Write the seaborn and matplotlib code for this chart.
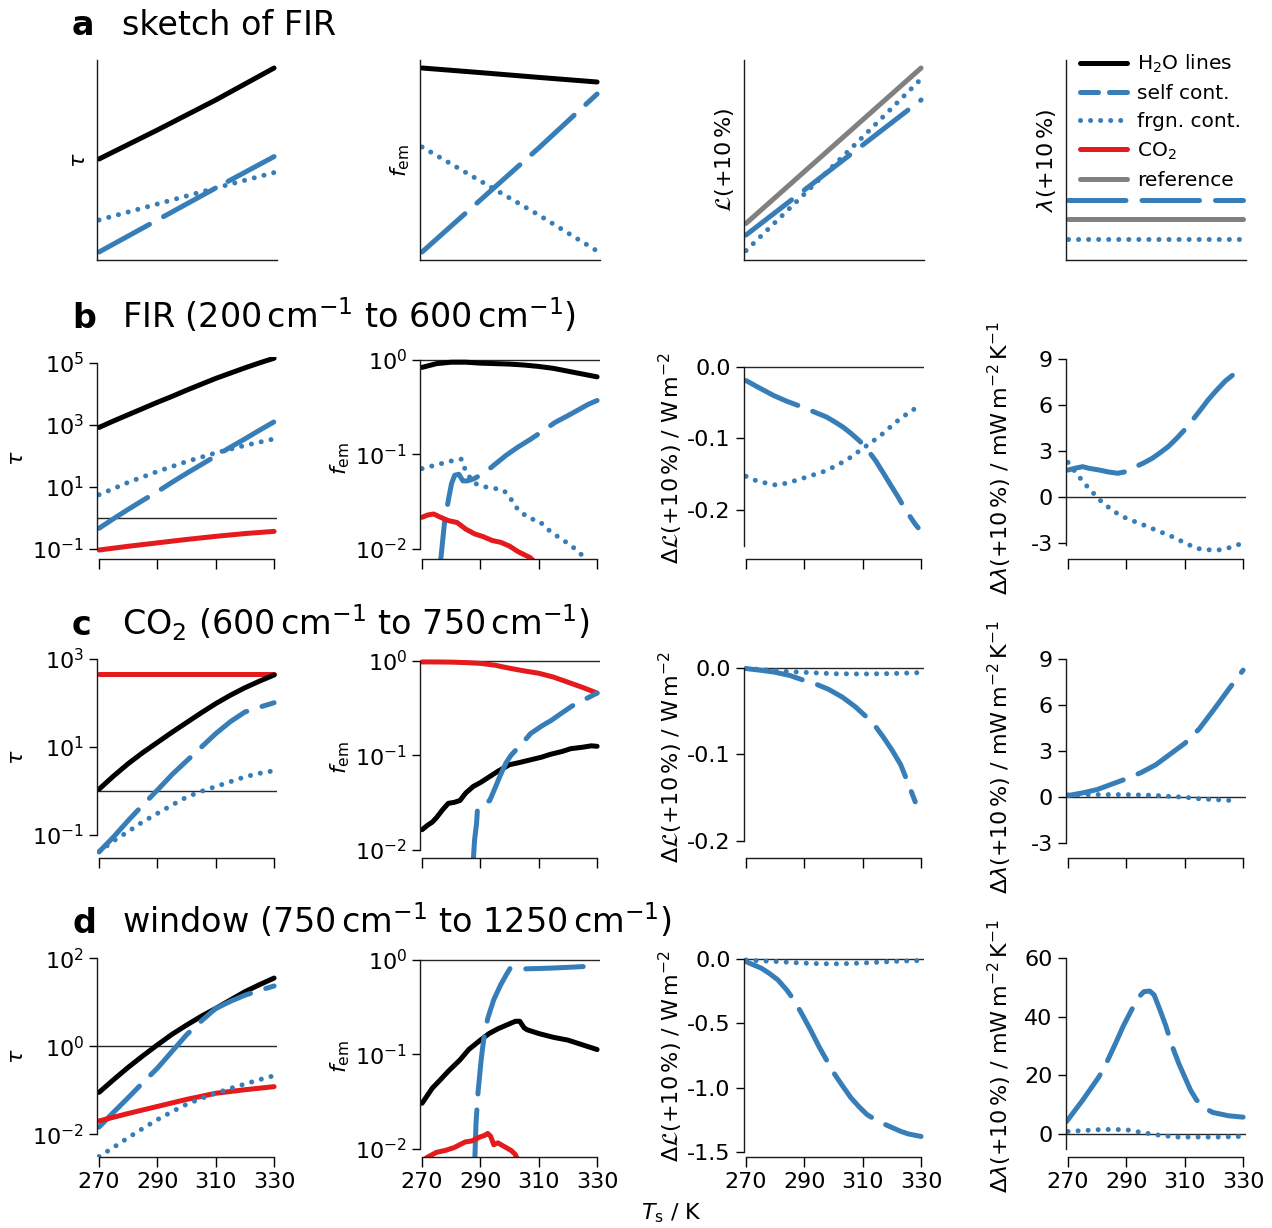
import numpy as np
import matplotlib
matplotlib.use('Agg')
from matplotlib import pyplot as plt
from matplotlib.lines import Line2D
from matplotlib.ticker import FixedLocator, NullLocator
import seaborn as sns

# ---------------------------------------------------------------- data
# row a: sketch (arbitrary units, 0..1)
a_t = [270, 290, 310, 330]
a_tau_h2o = [0.505, 0.65, 0.80, 0.96]
a_tau_self = [0.04, 0.20, 0.36, 0.517]
a_tau_frgn = [0.20, 0.28, 0.36, 0.437]
a_fem_h2o = [0.96, 0.937, 0.913, 0.89]
a_fem_self = [0.04, 0.30, 0.56, 0.83]
a_fem_frgn = [0.565, 0.395, 0.225, 0.045]
a_L_ref = [0.183, 0.442, 0.701, 0.96]
a_L_self = [0.125, 0.35, 0.575, 0.80]
a_L_frgn = [0.047, 0.33, 0.615, 0.905]
a_lam_self = [0.30, 0.30, 0.30, 0.30]
a_lam_ref = [0.205, 0.205, 0.205, 0.205]
a_lam_frgn = [0.105, 0.105, 0.105, 0.105]

# row b: FIR, log10 of tau and f_em
t5 = [270, 275, 280, 285, 290, 295, 300, 305, 310, 315, 320, 325, 330]
b_tau_h2o_log = [2.92, 3.13, 3.33, 3.53, 3.73, 3.92, 4.12, 4.31, 4.50, 4.67, 4.84, 5.00, 5.15]
b_tau_self_log = [-0.33, -0.02, 0.28, 0.57, 0.85, 1.15, 1.44, 1.72, 2.00, 2.28, 2.55, 2.83, 3.10]
t10 = [270, 280, 290, 300, 310, 320, 330]
b_tau_frgn_log = [0.75, 1.15, 1.50, 1.82, 2.10, 2.34, 2.55]
b_tau_co2_log = [-1.03, -0.91, -0.80, -0.69, -0.59, -0.50, -0.43]

b_fem_h2o_log = [-0.08, -0.04, -0.025, -0.025, -0.035, -0.04, -0.045, -0.055, -0.07, -0.09, -0.12, -0.15, -0.18]
b_fem_self_t = [275.8, 277.7, 279.1, 280.1, 281.2, 282.6, 284.0, 285.5, 287.6, 290.0, 293.2, 296.0,
                298.8, 303.0, 307.2, 311.5, 315.7, 320.0, 324.1, 327.0, 330.0]
b_fem_self_log = [-2.3, -1.72, -1.47, -1.31, -1.22, -1.21, -1.28, -1.28, -1.26, -1.22, -1.15, -1.08,
                  -1.01, -0.92, -0.84, -0.75, -0.66, -0.59, -0.52, -0.47, -0.43]
b_fem_frgn_t = [270, 275, 280, 283.5, 285, 287.6, 291, 295, 298, 300, 303, 307, 310, 313, 317, 321, 325, 327]
b_fem_frgn_log = [-1.15, -1.11, -1.07, -1.05, -1.18, -1.30, -1.34, -1.36, -1.38, -1.45, -1.59, -1.68,
                  -1.70, -1.79, -1.88, -1.96, -2.07, -2.15]
b_fem_co2_t = [270, 272, 274, 276, 279, 282, 285, 288, 291, 294, 297, 300, 303, 305, 307, 308]
b_fem_co2_log = [-1.665, -1.64, -1.63, -1.66, -1.70, -1.72, -1.79, -1.84, -1.87, -1.91, -1.93, -1.97,
                 -2.03, -2.06, -2.09, -2.12]

b_dL_self_t = [270, 274, 279.5, 284, 289.3, 294, 297.6, 300.5, 303.2, 306, 308.8, 311.5, 314.4, 317,
               320, 322, 324.1, 326, 328, 329]
b_dL_self = [-0.019, -0.028, -0.040, -0.048, -0.056, -0.064, -0.070, -0.077, -0.084, -0.093, -0.103,
             -0.115, -0.131, -0.148, -0.168, -0.181, -0.196, -0.208, -0.220, -0.225]
b_dL_frgn_t = [270, 274, 280, 284, 290, 297.6, 304.6, 310, 315.8, 321.4, 327, 329]
b_dL_frgn = [-0.153, -0.160, -0.165, -0.1626, -0.155, -0.145, -0.130, -0.114, -0.097, -0.077, -0.060, -0.057]

b_dlam_self_t = [270, 272.5, 275, 277, 280.7, 284, 287, 290, 293.2, 296, 298.8, 301.5, 304.3, 307,
                 309.9, 312.5, 315.4, 318, 321, 324, 326.5, 328.5, 330]
b_dlam_self = [1.78, 1.90, 2.00, 1.90, 1.78, 1.65, 1.57, 1.68, 2.00, 2.25, 2.54, 2.90, 3.30, 3.80,
               4.39, 5.00, 5.70, 6.35, 7.00, 7.60, 7.98, 8.17, 8.24]
b_dlam_frgn_t = [270, 272.4, 274.7, 276.9, 279.3, 282, 285, 287.6, 291, 294.6, 298, 301.5, 305, 308,
                 311, 314, 318, 321.7, 325, 327.9, 329]
b_dlam_frgn = [2.28, 1.67, 1.13, 0.63, 0.15, -0.39, -0.80, -1.15, -1.45, -1.70, -1.97, -2.24, -2.50,
               -2.78, -3.05, -3.33, -3.42, -3.43, -3.30, -3.11, -3.05]

# row c: CO2 band
c_tau_co2_log = [2.65, 2.65, 2.65, 2.65, 2.65, 2.65, 2.65]
c_tau_h2o_log = [0.04, 0.34, 0.62, 0.87, 1.10, 1.33, 1.55, 1.77, 1.98, 2.17, 2.34, 2.49, 2.63]
c_tau_self_log = [-1.38, -1.04, -0.67, -0.32, 0.02, 0.37, 0.68, 0.99, 1.30, 1.57, 1.79, 1.90, 2.00]
c_tau_frgn_log = [-1.38, -1.13, -0.92, -0.70, -0.51, -0.32, -0.14, -0.01, 0.10, 0.21, 0.32, 0.40, 0.46]

c_fem_co2_log = [-0.01, -0.01, -0.012, -0.017, -0.025, -0.045, -0.077, -0.105, -0.13, -0.17, -0.225, -0.28, -0.34]
c_fem_h2o_t = [270, 272, 273.5, 275, 277, 279, 281, 283, 285, 287.6, 290, 293, 296, 300, 303, 307,
               311, 314, 318, 321, 325, 328, 330]
c_fem_h2o_log = [-1.79, -1.74, -1.71, -1.66, -1.58, -1.51, -1.50, -1.48, -1.40, -1.33, -1.29, -1.23,
                 -1.17, -1.10, -1.08, -1.05, -1.02, -0.99, -0.96, -0.93, -0.915, -0.90, -0.905]
c_fem_self_t = [287.4, 288, 288.7, 289, 291, 293.2, 295, 297, 298.8, 300.5, 302.3, 305, 307.2, 311,
                314.3, 318, 321.3, 325, 330]
c_fem_self_log = [-2.2, -1.9, -1.72, -1.57, -1.52, -1.48, -1.35, -1.20, -1.08, -1.00, -0.94, -0.85,
                  -0.77, -0.69, -0.63, -0.55, -0.48, -0.42, -0.34]

c_dL_self_t = [270, 275, 279.5, 285, 289.3, 294, 298.3, 303, 307.4, 311, 314.4, 317, 320, 323, 325.6, 328]
c_dL_self = [-0.001, -0.003, -0.005, -0.009, -0.014, -0.019, -0.025, -0.034, -0.045, -0.056, -0.068,
             -0.080, -0.095, -0.112, -0.134, -0.155]
c_dL_frgn_t = [270, 275, 280, 285, 290, 300, 310, 320, 329]
c_dL_frgn = [-0.001, -0.002, -0.0035, -0.0045, -0.0054, -0.007, -0.0073, -0.0068, -0.0058]

c_dlam_self = [0.11, 0.28, 0.50, 0.85, 1.20, 1.60, 2.10, 2.80, 3.50, 4.45, 5.70, 7.00, 8.26]
c_dlam_frgn_t = [270, 280, 290, 300, 305, 310, 315, 320, 325, 328]
c_dlam_frgn = [0.15, 0.17, 0.17, 0.12, 0.05, 0.0, -0.10, -0.15, -0.20, -0.22]

# row d: window
d_tau_h2o_log = [-1.05, -0.76, -0.48, -0.22, 0.03, 0.27, 0.48, 0.68, 0.86, 1.05, 1.24, 1.40, 1.55]
d_tau_self_log = [-1.84, -1.50, -1.17, -0.83, -0.50, -0.12, 0.26, 0.57, 0.86, 1.02, 1.16, 1.27, 1.37]
d_tau_co2_log = [-1.70, -1.53, -1.37, -1.21, -1.07, -0.99, -0.92]
d_tau_frgn_log = [-2.51, -2.30, -2.08, -1.87, -1.67, -1.49, -1.32, -1.19, -1.07, -0.96, -0.86, -0.76, -0.67]

d_fem_h2o_t = [270, 273.5, 276, 279, 283, 286, 290, 293, 296, 299, 302, 303.5, 305, 306, 310, 315, 320, 325, 330]
d_fem_h2o_log = [-1.52, -1.36, -1.28, -1.18, -1.06, -0.95, -0.85, -0.78, -0.73, -0.69, -0.65, -0.65,
                 -0.72, -0.74, -0.78, -0.82, -0.85, -0.90, -0.95]
d_fem_self_t = [288, 288.5, 289.2, 289.7, 290.3, 291.1, 292.5, 294.6, 297, 299, 300.2, 302, 304.4,
                310, 315, 320, 325, 330]
d_fem_self_log = [-2.2, -1.73, -1.40, -1.24, -1.05, -0.85, -0.62, -0.42, -0.26, -0.15, -0.088, -0.092,
                  -0.095, -0.09, -0.085, -0.078, -0.07, -0.064]
d_fem_co2_t = [270.5, 272, 275, 278, 281, 284.8, 287, 289.7, 291.5, 292.5, 293.5, 294.6, 296, 298.8,
               300.5, 301.9, 302.8]
d_fem_co2_log = [-2.12, -2.09, -2.04, -2.02, -1.99, -1.93, -1.92, -1.88, -1.86, -1.84, -1.87, -1.96,
                 -1.94, -1.99, -2.02, -2.06, -2.12]

d_dL_self_t = [270, 275.3, 278, 280.9, 284, 286.5, 289, 292.1, 295, 297.6, 300.5, 303.2, 306, 308.8,
               311.5, 314.4, 317, 320, 323, 325.6, 330]
d_dL_self = [-0.018, -0.07, -0.11, -0.16, -0.24, -0.32, -0.42, -0.55, -0.68, -0.785, -0.90, -0.99,
             -1.08, -1.15, -1.21, -1.25, -1.28, -1.31, -1.34, -1.36, -1.38]
d_dL_frgn_t = [270, 275, 281, 288, 295, 302, 309, 316, 323, 329]
d_dL_frgn = [-0.005, -0.012, -0.018, -0.028, -0.034, -0.035, -0.030, -0.022, -0.014, -0.010]

d_dlam_self_t = [269.5, 275.1, 280.7, 283.5, 286.3, 289, 291.8, 294, 296, 298, 299.5, 301.5, 303.5,
                 305.7, 308, 309.9, 312, 314, 317, 319.6, 325.1, 330]
d_dlam_self = [4.3, 11.7, 19.7, 25.0, 31.0, 37.0, 42.4, 46.5, 48.6, 48.8, 47.5, 42.4, 37.0, 30.0,
               24.0, 19.7, 15.0, 11.7, 8.8, 7.4, 6.25, 5.8]
d_dlam_frgn_t = [270, 275, 280, 285, 290, 294.6, 300, 307, 315, 322, 329]
d_dlam_frgn = [0.9, 1.2, 1.5, 1.6, 1.5, 0.7, -0.2, -1.0, -1.0, -1.0, -0.8]

row_titles = [('a', 'sketch of FIR'),
              ('b', r'FIR (200$\,$cm$^{-1}$ to 600$\,$cm$^{-1}$)'),
              ('c', r'CO$_2$ (600$\,$cm$^{-1}$ to 750$\,$cm$^{-1}$)'),
              ('d', r'window (750$\,$cm$^{-1}$ to 1250$\,$cm$^{-1}$)')]
x_ticks = [270, 290, 310, 330]
legend_labels = [r'H$_2$O lines', 'self cont.', 'frgn. cont.', r'CO$_2$', 'reference']

# ---------------------------------------------------------------- style
sns.set_theme(style='ticks', context='notebook',
              rc={'text.color': 'black', 'axes.labelcolor': 'black', 'xtick.color': 'black',
                  'ytick.color': 'black', 'axes.edgecolor': '0.1'})
plt.rcParams['font.family'] = ['DejaVu Sans']
plt.rcParams['axes.unicode_minus'] = False
plt.rcParams['mathtext.fontset'] = 'dejavusans'

pal = sns.color_palette('Set1')
RED, BLUE = pal[0], pal[1]
GRAY = '#808080'
LW = 3.6
STY = {
    'h2o': dict(color='black', lw=LW, ls='-', solid_capstyle='round'),
    'self': dict(color=BLUE, lw=LW, ls=(0, (11.5, 3.2)), dash_capstyle='round'),
    'frgn': dict(color=BLUE, lw=LW, ls=(0, (0.01, 2.0)), dash_capstyle='round'),
    'co2': dict(color=RED, lw=LW, ls='-', solid_capstyle='round'),
    'ref': dict(color=GRAY, lw=LW, ls='-'),
}
FS = 16

W, H = 1272, 1228
COL_LEFT = [97, 420, 744, 1066]
COL_W = 180
ROW_BOX = [(60, 260), (357, 559), (656, 858), (955, 1157)]
XLIM = (269.3, 331.0)


def makeAxes(fig, r, c):
    top, bot = ROW_BOX[r]
    rect = [COL_LEFT[c] / W, 1 - bot / H, COL_W / W, (bot - top) / H]
    ax = fig.add_axes(rect)
    ax.set_xlim(*XLIM)
    for s in ('top', 'right'):
        ax.spines[s].set_visible(False)
    for s in ('left', 'bottom'):
        ax.spines[s].set_linewidth(1.0)
    ax.tick_params(labelsize=FS, width=1.0)
    ax.tick_params(axis='x', length=7)
    ax.tick_params(axis='y', length=6)
    return ax


def line(ax, x, y, key, log=False):
    y = np.power(10.0, y) if log else np.asarray(y)
    sns.lineplot(x=x, y=y, ax=ax, sort=False, estimator=None, legend=False, **STY[key])


def refLine(ax, y):
    ax.axhline(y, color='0.15', lw=1.0, zorder=0.5)


fig = plt.figure(figsize=(W / 100, H / 100), dpi=100)

# ---------------------------------------------------------------- row a (sketch)
axs = [makeAxes(fig, 0, c) for c in range(4)]
line(axs[0], a_t, a_tau_h2o, 'h2o')
line(axs[0], a_t, a_tau_self, 'self')
line(axs[0], a_t, a_tau_frgn, 'frgn')
line(axs[1], a_t, a_fem_h2o, 'h2o')
line(axs[1], a_t, a_fem_self, 'self')
line(axs[1], a_t, a_fem_frgn, 'frgn')
line(axs[2], a_t, a_L_ref, 'ref')
line(axs[2], a_t, a_L_self, 'self')
line(axs[2], a_t, a_L_frgn, 'frgn')
line(axs[3], a_t, a_lam_self, 'self')
line(axs[3], a_t, a_lam_ref, 'ref')
line(axs[3], a_t, a_lam_frgn, 'frgn')
a_labels = [r'$\tau$', r'$f_\mathrm{em}$', r'$\mathcal{L}$(+10$\,$%)', r'$\lambda$(+10$\,$%)']
for ax, lab in zip(axs, a_labels):
    ax.set_ylim(0, 1)
    ax.set_xticks([])
    ax.set_yticks([])
    ax.set_ylabel(lab, fontsize=FS)
    ax.yaxis.set_label_coords(-0.045, 0.5)

leg_sty = dict(STY)
leg_sty['self'] = dict(STY['self'], ls=(0, (3.6, 2.2)))
handles = [Line2D([], [], **leg_sty[k]) for k in ('h2o', 'self', 'frgn', 'co2', 'ref')]
axs[3].legend(handles, legend_labels, loc='upper left', bbox_to_anchor=(0.08, 1.035), frameon=False,
              fontsize=14.5, borderpad=0, borderaxespad=0, handlelength=2.3, handletextpad=0.5,
              labelspacing=0.45)

# ---------------------------------------------------------------- rows b-d
tau_lab = r'$\tau$'
fem_lab = r'$f_\mathrm{em}$'
dL_lab = r'$\Delta\mathcal{L}$(+10$\,$%) / W$\,$m$^{-2}$'
dlam_lab = r'$\Delta\lambda$(+10$\,$%) / mW$\,$m$^{-2}\,$K$^{-1}$'

panels = {}
for r in (1, 2, 3):
    panels[r] = [makeAxes(fig, r, c) for c in range(4)]

# b
ax = panels[1]
line(ax[0], t5, b_tau_h2o_log, 'h2o', log=True)
line(ax[0], t5, b_tau_self_log, 'self', log=True)
line(ax[0], t10, b_tau_frgn_log, 'frgn', log=True)
line(ax[0], t10, b_tau_co2_log, 'co2', log=True)
line(ax[1], t5, b_fem_h2o_log, 'h2o', log=True)
line(ax[1], b_fem_self_t, b_fem_self_log, 'self', log=True)
line(ax[1], b_fem_frgn_t, b_fem_frgn_log, 'frgn', log=True)
line(ax[1], b_fem_co2_t, b_fem_co2_log, 'co2', log=True)
line(ax[2], b_dL_self_t, b_dL_self, 'self')
line(ax[2], b_dL_frgn_t, b_dL_frgn, 'frgn')
line(ax[3], b_dlam_self_t, b_dlam_self, 'self')
line(ax[3], b_dlam_frgn_t, b_dlam_frgn, 'frgn')

# c
ax = panels[2]
line(ax[0], t10, c_tau_co2_log, 'co2', log=True)
line(ax[0], t5, c_tau_h2o_log, 'h2o', log=True)
line(ax[0], t5, c_tau_self_log, 'self', log=True)
line(ax[0], t5, c_tau_frgn_log, 'frgn', log=True)
line(ax[1], t5, c_fem_co2_log, 'co2', log=True)
line(ax[1], c_fem_h2o_t, c_fem_h2o_log, 'h2o', log=True)
line(ax[1], c_fem_self_t, c_fem_self_log, 'self', log=True)
line(ax[2], c_dL_self_t, c_dL_self, 'self')
line(ax[2], c_dL_frgn_t, c_dL_frgn, 'frgn')
line(ax[3], t5, c_dlam_self, 'self')
line(ax[3], c_dlam_frgn_t, c_dlam_frgn, 'frgn')

# d
ax = panels[3]
line(ax[0], t5, d_tau_h2o_log, 'h2o', log=True)
line(ax[0], t5, d_tau_self_log, 'self', log=True)
line(ax[0], t10, d_tau_co2_log, 'co2', log=True)
line(ax[0], t5, d_tau_frgn_log, 'frgn', log=True)
line(ax[1], d_fem_h2o_t, d_fem_h2o_log, 'h2o', log=True)
line(ax[1], d_fem_self_t, d_fem_self_log, 'self', log=True)
line(ax[1], d_fem_co2_t, d_fem_co2_log, 'co2', log=True)
line(ax[2], d_dL_self_t, d_dL_self, 'self')
line(ax[2], d_dL_frgn_t, d_dL_frgn, 'frgn')
line(ax[3], d_dlam_self_t, d_dlam_self, 'self')
line(ax[3], d_dlam_frgn_t, d_dlam_frgn, 'frgn')

# axis setup per panel: (ylim, yticks, spine bounds, log)
setup = {
    (1, 0): ((10 ** -1.32, 10 ** 5.19), [1e-1, 1e1, 1e3, 1e5], (1e-1, 1e5), True),
    (1, 1): ((10 ** -2.106, 10 ** 0.03), [1e-2, 1e-1, 1e0], (1e-2, 1e0), True),
    (1, 2): ((-0.2687, 0.014), [-0.2, -0.1, 0.0], (-0.25, 0.0), False),
    (1, 3): ((-4.02, 9.15), [-3, 0, 3, 6, 9], (-3.1, 9), False),
    (2, 0): ((10 ** -1.52, 10 ** 3.06), [1e-1, 1e1, 1e3], (1e-1, 1e3), True),
    (2, 1): ((10 ** -2.09, 10 ** 0.053), [1e-2, 1e-1, 1e0], (1e-2, 1e0), True),
    (2, 2): ((-0.2199, 0.0135), [-0.2, -0.1, 0.0], (-0.2, 0.0), False),
    (2, 3): ((-3.95, 9.18), [-3, 0, 3, 6, 9], (-3, 9), False),
    (3, 0): ((10 ** -2.52, 10 ** 2.075), [1e-2, 1e0, 1e2], (1e-2, 1e2), True),
    (3, 1): ((10 ** -2.09, 10 ** 0.053), [1e-2, 1e-1, 1e0], (1e-2, 1e0), True),
    (3, 2): ((-1.54, 0.0336), [-1.5, -1.0, -0.5, 0.0], (-1.5, 0.0), False),
    (3, 3): ((-7.8, 61.1), [0, 20, 40, 60], (-5, 60), False),
}
ylabels = [tau_lab, fem_lab, dL_lab, dlam_lab]
label_x = [-0.39, -0.38, -0.33, -0.29]

for r in (1, 2, 3):
    for c in range(4):
        a = panels[r][c]
        ylim, yt, bounds, log = setup[(r, c)]
        if log:
            a.set_yscale('log')
            refLine(a, 1.0)
        else:
            refLine(a, 0.0)
        a.set_ylim(*ylim)
        a.yaxis.set_major_locator(FixedLocator(yt))
        a.yaxis.set_minor_locator(NullLocator())
        if not log:
            a.set_yticklabels([('%g' % v if c == 3 else '%.1f' % v) for v in yt])
        a.spines['left'].set_bounds(*bounds)
        a.spines['bottom'].set_bounds(270, 330)
        a.set_xticks(x_ticks)
        if r < 3:
            a.set_xticklabels([])
        a.set_xlabel('')
        a.set_ylabel(ylabels[c], fontsize=FS)
        a.yaxis.set_label_coords(label_x[c], 0.5)

# ---------------------------------------------------------------- titles
title_y = [35, 328, 635, 933]
for (letter, txt), yb in zip(row_titles, title_y):
    fig.text(72 / W, 1 - yb / H, letter, fontsize=24, fontweight='bold', va='baseline')
    fig.text(122 / W, 1 - yb / H, txt, fontsize=24, va='baseline')

fig.text(672 / W, 1 - 1213 / H, r'$T_\mathrm{s}$ / K', fontsize=FS, ha='center', va='center')

fig.savefig('out.png', dpi=100)
plt.close(fig)
